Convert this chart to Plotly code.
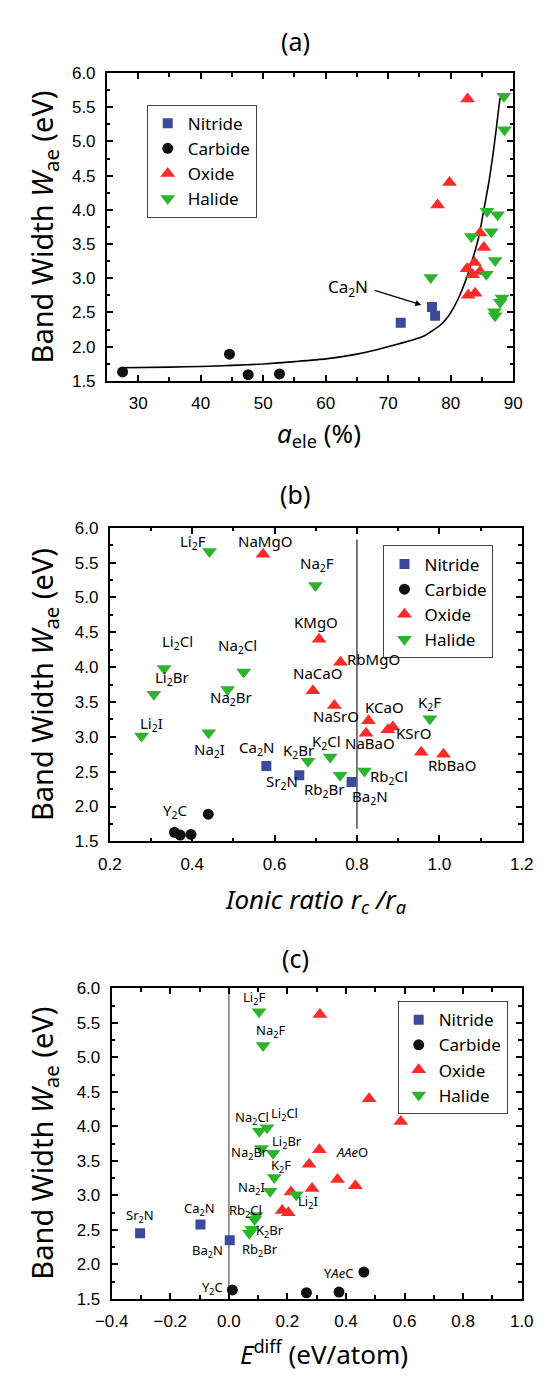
import plotly.graph_objects as go

# ------------------------------------------------------------------ data
# Band width W_ae (eV) per compound family, with the three descriptors
nitride_w = [2.58, 2.45, 2.35]                      # Ca2N, Sr2N, Ba2N
nitride_aele = [77.0, 77.5, 72.0]
nitride_ratio = [0.580, 0.660, 0.787]
nitride_ediff = [-0.097, -0.303, 0.003]

carbide_w = [1.63, 1.89, 1.59, 1.60]
carbide_aele = [27.5, 44.6, 47.6, 52.6]
carbide_ratio = [0.357, 0.439, 0.371, 0.397]
carbide_ediff = [0.012, 0.461, 0.265, 0.376]

oxide_w = [5.62, 4.40, 4.07, 3.66, 3.45, 3.23, 3.14, 3.10, 3.05, 2.78, 2.75]
oxide_aele = [82.7, 79.8, 77.9, 84.7, 85.3, 83.8, 82.6, 84.7, 83.5, 83.9, 82.8]
oxide_ratio = [0.572, 0.708, 0.760, 0.693, 0.745, 0.828, 0.887, 0.875, 0.822, 0.956, 1.010]
oxide_ediff = [0.311, 0.479, 0.587, 0.309, 0.274, 0.371, 0.432, 0.284, 0.212, 0.182, 0.203]

# Li2F, Na2F, Li2Cl, Na2Cl, Na2Br, Li2Br, K2F, Na2I, Li2I, K2Cl, K2Br, Rb2Cl, Rb2Br
halide_w = [5.66, 5.17, 3.98, 3.93, 3.68, 3.61, 3.26, 3.06, 3.01, 2.71, 2.65, 2.51, 2.45]
halide_aele = [88.5, 88.6, 85.8, 87.5, 86.5, 83.3, 87.1, 85.7, 76.8, 88.2, 87.9, 87.0, 87.1]
halide_ratio = [0.442, 0.699, 0.332, 0.525, 0.486, 0.307, 0.977, 0.440, 0.277, 0.735, 0.681, 0.818, 0.759]
halide_ediff = [0.103, 0.117, 0.130, 0.104, 0.111, 0.151, 0.155, 0.141, 0.230, 0.093, 0.088, 0.078, 0.070]

# guide curve drawn in panel (a)
fit_aele = [27.5, 35, 40, 45, 50, 55, 60, 65, 68, 71.3, 74, 75.8, 77.5, 78.4, 79.5,
            80.4, 81.2, 81.9, 82.6, 83.2, 83.8, 84.4, 84.9, 85.4, 86.1, 86.7, 87.2, 87.7, 87.9]
fit_w = [1.69, 1.70, 1.71, 1.725, 1.745, 1.78, 1.82, 1.89, 1.95, 2.03, 2.10, 2.16, 2.26, 2.32, 2.43,
         2.56, 2.70, 2.85, 3.02, 3.19, 3.37, 3.57, 3.80, 4.05, 4.40, 4.77, 5.12, 5.50, 5.64]

# reference lines
ratio_line_x = [0.8, 0.8]
ratio_line_w = [1.68, 5.83]
ediff_line_x = [0.0, 0.0]
ediff_line_w = [1.5, 6.0]

# axis ranges
aele_range = [25, 90]
ratio_range = [0.2, 1.2]
ediff_range = [-0.4, 1.0]
w_range = [1.5, 6.0]

# text labels (text, x, y) in data units
labels_b = [
    ("Li<sub>2</sub>F", 0.403, 5.80), ("NaMgO", 0.576, 5.81), ("Na<sub>2</sub>F", 0.703, 5.48),
    ("KMgO", 0.701, 4.65), ("Li<sub>2</sub>Cl", 0.365, 4.36), ("Na<sub>2</sub>Cl", 0.509, 4.31),
    ("RbMgO", 0.840, 4.12), ("Li<sub>2</sub>Br", 0.351, 3.85), ("NaCaO", 0.703, 3.91),
    ("Na<sub>2</sub>Br", 0.493, 3.55), ("NaSrO", 0.749, 3.30), ("KCaO", 0.866, 3.43),
    ("K<sub>2</sub>F", 0.975, 3.49), ("Li<sub>2</sub>I", 0.301, 3.18), ("Na<sub>2</sub>I", 0.442, 2.81),
    ("KSrO", 0.937, 3.06), ("NaBaO", 0.831, 2.91), ("Ca<sub>2</sub>N", 0.555, 2.84),
    ("K<sub>2</sub>Br", 0.658, 2.80), ("K<sub>2</sub>Cl", 0.726, 2.93), ("RbBaO", 1.031, 2.59),
    ("Sr<sub>2</sub>N", 0.617, 2.35), ("Rb<sub>2</sub>Br", 0.722, 2.24), ("Rb<sub>2</sub>Cl", 0.877, 2.42),
    ("Ba<sub>2</sub>N", 0.831, 2.13), ("Y<sub>2</sub>C", 0.359, 1.93),
]
labels_c = [
    ("Li<sub>2</sub>F", 0.086, 5.86), ("Na<sub>2</sub>F", 0.142, 5.38), ("Na<sub>2</sub>Cl", 0.079, 4.12),
    ("Li<sub>2</sub>Cl", 0.190, 4.18), ("Li<sub>2</sub>Br", 0.198, 3.77), ("Na<sub>2</sub>Br", 0.070, 3.62),
    ("<i>AAe</i>O", 0.419, 3.63), ("K<sub>2</sub>F", 0.179, 3.42), ("Na<sub>2</sub>I", 0.079, 3.10),
    ("Li<sub>2</sub>I", 0.270, 2.90), ("Ca<sub>2</sub>N", -0.099, 2.81), ("Sr<sub>2</sub>N", -0.305, 2.70),
    ("Rb<sub>2</sub>Cl", 0.057, 2.77), ("K<sub>2</sub>Br", 0.142, 2.49), ("Rb<sub>2</sub>Br", 0.106, 2.21),
    ("Ba<sub>2</sub>N", -0.072, 2.20), ("Y<sub>2</sub>C", -0.056, 1.66), ("Y<i>Ae</i>C", 0.374, 1.88),
]
# Ca2N arrow in panel (a): text position, arrow tail, arrow head
ca2n_text_a = (63.6, 2.86)
ca2n_arrow_tail = (67.6, 2.83)
ca2n_arrow_head = (75.3, 2.61)

# ------------------------------------------------------------------ layout helpers
W, H = 547, 1377
def px(x):
    return x / W
def py(y):
    return 1 - y / H

SANS = "Noto Sans, DejaVu Sans, sans-serif"
NUM = "Liberation Sans, Arial, sans-serif"

families = [
    ("Nitride", "square", "#3b4a9b", 10,
     nitride_w, nitride_aele, nitride_ratio, nitride_ediff),
    ("Carbide", "circle", "#111111", 11,
     carbide_w, carbide_aele, carbide_ratio, carbide_ediff),
    ("Oxide", "triangle-up", "#ff2a2a", 13,
     oxide_w, oxide_aele, oxide_ratio, oxide_ediff),
    ("Halide", "triangle-down", "#2db42d", 13,
     halide_w, halide_aele, halide_ratio, halide_ediff),
]

fig = go.Figure()

# guide curve (a)
fig.add_trace(go.Scatter(x=fit_aele, y=fit_w, mode="lines",
                         line=dict(color="black", width=1.6, shape="spline", smoothing=0.5),
                         xaxis="x", yaxis="y", showlegend=False, hoverinfo="skip"))
# reference lines
fig.add_trace(go.Scatter(x=ratio_line_x, y=ratio_line_w, mode="lines", line=dict(color="#222", width=1.2),
                         xaxis="x2", yaxis="y2", showlegend=False, hoverinfo="skip"))
fig.add_trace(go.Scatter(x=ediff_line_x, y=ediff_line_w, mode="lines", line=dict(color="#7a7a7a", width=1.5),
                         xaxis="x3", yaxis="y3", showlegend=False, hoverinfo="skip"))

for panel, (xa, ya, leg) in enumerate([("x", "y", "legend"), ("x2", "y2", "legend2"), ("x3", "y3", "legend3")]):
    for name, sym, col, sz, wv, a, r, e in families:
        xs = [a, r, e][panel]
        fig.add_trace(go.Scatter(
            x=xs, y=wv, mode="markers", name=name, xaxis=xa, yaxis=ya, legend=leg,
            marker=dict(symbol=sym, color=col, size=sz, line=dict(width=0)),
        ))

def axis(rng, dtick, mdtick, dom, anchor, fmt, standoff):
    return dict(range=rng, domain=dom, anchor=anchor, dtick=dtick, tickformat=fmt,
                showline=True, linecolor="black", linewidth=2, mirror="allticks",
                ticks="inside", ticklen=6, tickwidth=1.5, tickcolor="black",
                showgrid=False, zeroline=False, ticklabelstandoff=standoff,
                tickfont=dict(family=NUM, size=17, color="black"),
                minor=dict(ticks="inside", ticklen=3.5, tickwidth=1.5, tickcolor="black",
                           dtick=mdtick, showgrid=False))

dA = dict(x=[px(95), px(524)], y=[py(377), py(65)])
dB = dict(x=[px(98), px(533)], y=[py(844), py(526)])
dC = dict(x=[px(100), px(533)], y=[py(1308), py(993)])

legend_common = dict(bgcolor="white", bordercolor="#444", borderwidth=1,
                     font=dict(family=SANS, size=17, color="black"),
                     xanchor="left", yanchor="top", tracegroupgap=0, itemsizing="trace")

fig.update_layout(
    width=W, height=H, margin=dict(l=0, r=0, t=0, b=0),
    paper_bgcolor="white", plot_bgcolor="white",
    xaxis=axis(aele_range, 10, 5, dA["x"], "y", "d", 6),
    yaxis=axis(w_range, 0.5, 0.25, dA["y"], "x", ".1f", 6),
    xaxis2=axis(ratio_range, 0.2, 0.1, dB["x"], "y2", ".1f", 6),
    yaxis2=axis(w_range, 0.5, 0.25, dB["y"], "x2", ".1f", 6),
    xaxis3=axis(ediff_range, 0.2, 0.1, dC["x"], "y3", ".1f", 6),
    yaxis3=axis(w_range, 0.5, 0.25, dC["y"], "x3", ".1f", 6),
    legend=dict(x=px(137), y=py(97), **legend_common),
    legend2=dict(x=px(387), y=py(544), **legend_common),
    legend3=dict(x=px(402), y=py(1006), **legend_common),
    showlegend=True,
)

ann = []
# panel titles
for txt, yy in [("(a)", 32), ("(b)", 492), ("(c)", 962)]:
    ann.append(dict(text=txt, x=px(294), y=py(yy), xref="paper", yref="paper", showarrow=False,
                    xanchor="center", yanchor="middle", font=dict(family=SANS, size=25, color="black")))
# y titles
ytitle = "Band Width <i>W</i><sub>ae</sub> (eV)"
for yy in [221, 685, 1150]:
    ann.append(dict(text=ytitle, x=px(28), y=py(yy), xref="paper", yref="paper", showarrow=False,
                    textangle=-90, xanchor="center", yanchor="middle",
                    font=dict(family=SANS, size=29, color="black")))
# x titles
for txt, xx, yy in [("<i>a</i><sub>ele</sub> (%)", 319, 431),
                    ("<i>Ionic ratio r<sub>c</sub> /r<sub>a</sub></i>", 315, 903),
                    ("<i>E</i><sup>diff</sup> (eV/atom)", 324, 1363)]:
    ann.append(dict(text=txt, x=px(xx), y=py(yy), xref="paper", yref="paper", showarrow=False,
                    xanchor="center", yanchor="middle", font=dict(family=SANS, size=26, color="black")))
# Ca2N label and arrow (a)
ann.append(dict(text="Ca<sub>2</sub>N", x=ca2n_text_a[0], y=ca2n_text_a[1], xref="x", yref="y",
                showarrow=False, font=dict(family=SANS, size=17, color="black")))
ann.append(dict(text="", x=ca2n_arrow_head[0], y=ca2n_arrow_head[1], ax=ca2n_arrow_tail[0], ay=ca2n_arrow_tail[1],
                xref="x", yref="y", axref="x", ayref="y", showarrow=True, arrowhead=2, arrowsize=1,
                arrowwidth=1.2, arrowcolor="black"))
for t, x, y in labels_b:
    ann.append(dict(text=t, x=x, y=y, xref="x2", yref="y2", showarrow=False,
                    font=dict(family=SANS, size=15, color="black")))
for t, x, y in labels_c:
    ann.append(dict(text=t, x=x, y=y, xref="x3", yref="y3", showarrow=False,
                    font=dict(family=SANS, size=13, color="black")))
fig.update_layout(annotations=ann)

fig.write_html("out.html")
